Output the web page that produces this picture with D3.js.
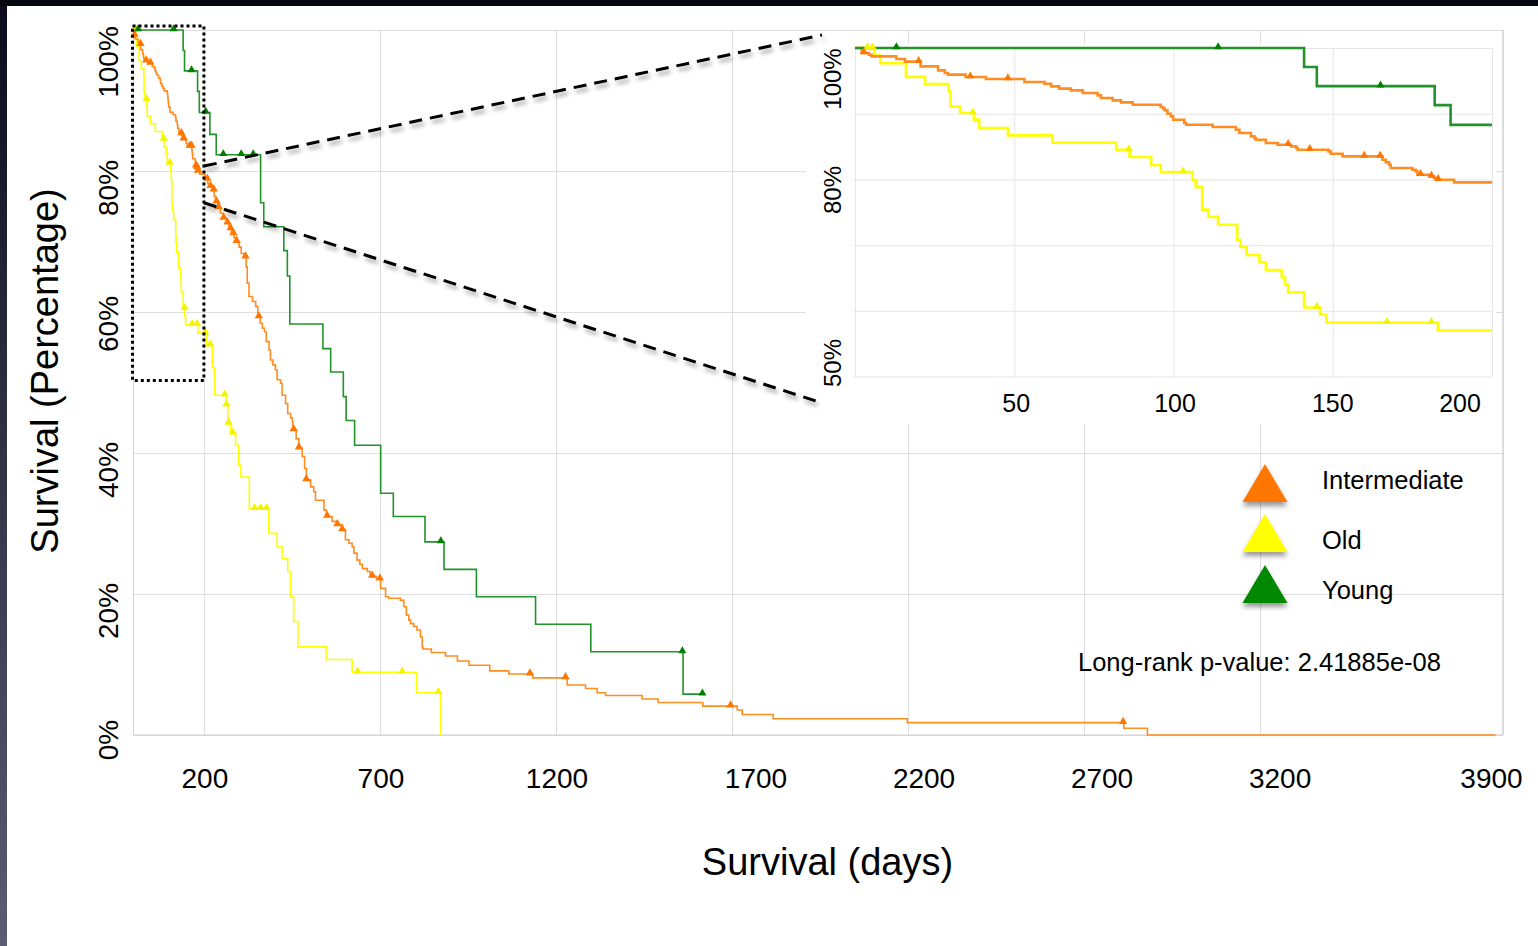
<!DOCTYPE html>
<html><head><meta charset="utf-8">
<script src="https://cdn.jsdelivr.net/npm/d3@7"></script>
<style>
html,body{margin:0;padding:0;background:#fff;}
svg{display:block;}
text{font-family:"Liberation Sans",Arial,Helvetica,sans-serif;fill:#000;}
</style></head><body>
<svg id="c" width="1538" height="946"></svg>
<script>
// ---------------- DATA ----------------
const groupNames = ["Intermediate", "Old", "Young"];

// Intermediate (orange) Kaplan-Meier steps: time (days) -> survival (%)
const interTimes = [0,2.1,4.4,5.2,13,15.7,20.6,26.1,28.2,29.2,34.7,41.1,53.2,59.5,61.6,64.1,67.8,71.5,76.2,77.2,80.9,83.5,87.2,96,96.8,97.3,98.1,99.2,99.9,103.4,104,112.3,119.6,120.7,124.3,125.4,125.9,129,132.7,136.9,138.5,139,148.7,149.4,153.1,165.6,166.7,167.7,168.2,175,176.1,176.6,180.8,181.8,182.8,188.1,
  203,207,211,218,224,229,233,240,247,255,264,271,278,286,293,300,306,315,320,323,328,338,347,353,360,366,372,377,385,389,396,403,408,418,422,432,438,446,451,453,462,470,479,486,491,503,512,517,541,548,564,579,593,602,612,621,626,635,643,650,664,672,678,690,702,716,725,758,768,775,782,787,796,805,815,820,822,846,886,920,953,1012,1066,1134,1232,1284,1317,1341,1445,1490,1617,1715,1729,1817,2198,2813,2880];
const interSurv = [100,99.24,98.98,98.73,98.32,97.92,97.21,96.6,96.19,95.94,95.58,95.28,94.82,94.57,94.16,93.81,93.55,93.15,92.79,92.39,92.03,91.73,91.37,91.02,90.76,90.51,90.0,89.6,89.09,88.58,88.32,87.97,87.56,87.06,86.55,86.29,86.04,85.53,85.28,85.03,84.77,84.52,84.26,83.91,83.5,82.99,82.59,82.23,81.73,81.47,81.22,80.71,80.46,80.2,79.95,79.54,
  79.2,78.8,78.2,77.8,77.3,76.4,75.6,74.8,74.0,73.3,72.6,71.8,71.1,70.5,70.0,69.2,68.3,67.8,66.4,64.1,62.2,61.5,60.8,59.3,58.4,57.7,57.2,55.8,54.6,53.2,52.5,51.8,50.4,49.9,48.2,47.0,45.6,45.0,44.4,43.3,42.0,40.7,39.5,37.8,36.2,35.2,34.5,33.3,31.9,31.0,30.3,29.8,29.1,27.7,27.2,26.7,25.8,24.8,24.2,23.6,23.2,22.8,22.5,22.1,20.8,19.6,19.4,19.1,18.2,17.0,16.3,15.8,15.4,14.9,13.9,12.5,12.2,11.7,11.2,10.5,9.9,9.1,8.65,8.1,7.1,6.6,6.0,5.6,5.1,4.6,4.1,3.55,2.9,2.3,1.75,0.95,0];
const interCensor = [2.8,20,36.2,48,136,142.8,159.9,164.9,177.6,181,183.1,210,219,228,236,242,256,267,276,284,293,318,356,455,470,491,550,579,593,678,700,1126,1227,1696,2811];
const interEnd = 3869;

// Old (yellow)
const oldTimes = [0,6,8,16,22,29.4,30,33,37.3,39,48,62,82,86.2,93,96,106,107,109,111,114,120,121,123,127,129,134,135,136,141,146,148,183,
  208,224,231,263,268,276,290,299,305,329,384,408,422,438,446,455,467,547,621,804,872];
const oldSurv = [100,98.9,97.7,95.6,94.5,93.4,91.1,90.1,89.1,87.8,86.7,85.6,84.5,83.4,82.2,81.1,79.9,78.8,75.4,74.3,73.1,70.8,69.7,68.5,67.4,66.2,65.1,64.0,62.8,60.5,59.4,58.2,57.0,
  55.3,52.1,48.2,46.8,44.2,42.8,41.1,38.3,36.6,32.1,28.6,26.7,25.0,23.2,19.6,16.1,12.5,10.7,8.9,6.0,0];
const oldCensor = [3.9,5.5,37,86,103,145,167,181,204,218,259,264,270,282,344,361,378,637,763,866];
const oldEnd = 872;

// Young (green)
const youngTimes = [0,141,145,182,187,217,235,361,370,427,437,444,538,560,596,604,628,702,738,828,882,974,1142,1299,1561];
const youngSurv = [100,97.1,94.2,91.3,88.3,85.2,82.3,75.5,72.1,68.7,65.1,58.3,54.8,51.5,48.0,44.6,41.1,34.3,31.0,27.4,23.5,19.6,15.7,11.8,5.8];
const youngCensor = [13,114,165,205,255,306,340,873,1559,1616];
const youngEnd = 1616;

// Axes
const xTickValues = [200,700,1200,1700,2200,2700,3200];
const xLabelValues = [200,700,1200,1700,2200,2700,3200,3900];
const yTickValues = [0,20,40,60,80,100];
const insetXTicks = [50,100,150,200];
const insetYTicks = [50,60,70,80,90,100];
const insetYLabelValues = [100,80,50];
const pValueText = "Long-rank p-value: 2.41885e-08";
const xTitle = "Survival (days)";
const yTitle = "Survival (Percentage)";

// ---------------- LAYOUT ----------------
const svg = d3.select("#c");
const x = d3.scaleLinear().domain([0,3890]).range([133.5,1503]);
const y = d3.scaleLinear().domain([0,100]).range([735,30]);
const ix = d3.scaleLinear().domain([0,200]).range([855,1492]);
const iy = d3.scaleLinear().domain([50,100]).range([376.5,48]);

const xLabelNudge = [1,1,1,24,16,18,20,-15];
const yLabelNudge = [5,17,17,12,17,32];
const insetXLabelNudge = [2,1.5,0,-32];
const insetYLabelNudge = [31,10.6,-13.5];

const series = [
  {name:"Old", T:oldTimes, S:oldSurv, C:oldCensor, end:oldEnd, line:"#ffff00", mark:"#f4f400"},
  {name:"Intermediate", T:interTimes, S:interSurv, C:interCensor, end:interEnd, line:"#ff8d22", mark:"#ff7700"},
  {name:"Young", T:youngTimes, S:youngSurv, C:youngCensor, end:youngEnd, line:"#22922a", mark:"#007f00"}
];
const legendColors = {"Intermediate":"#ff7700","Old":"#ffff00","Young":"#008800"};

function stepPts(T,S,end){
  const p = T.map((t,i)=>[t,S[i]]);
  if (end > T[T.length-1]) p.push([end,S[S.length-1]]);
  return p;
}
function survAt(T,S,t){
  const i = d3.bisectRight(T,t)-1;
  return S[Math.max(0,i)];
}

// defs
const defs = svg.append("defs");
const grad = defs.append("linearGradient").attr("id","lb").attr("x1",0).attr("y1",0).attr("x2",0).attr("y2",1);
grad.append("stop").attr("offset","0%").attr("stop-color","#0b0b1c");
grad.append("stop").attr("offset","100%").attr("stop-color","#5c5c72");
defs.append("filter").attr("id","sh").attr("x","-40%").attr("y","-40%").attr("width","180%").attr("height","200%")
  .append("feDropShadow").attr("dx",0).attr("dy",4).attr("stdDeviation",2.5).attr("flood-color","#000").attr("flood-opacity",0.4);
defs.append("filter").attr("id","dsh").attr("x","-10%").attr("y","-50%").attr("width","120%").attr("height","200%")
  .append("feDropShadow").attr("dx",2).attr("dy",4).attr("stdDeviation",2).attr("flood-color","#000").attr("flood-opacity",0.35);
defs.append("clipPath").attr("id","ic").append("rect")
  .attr("x",ix(0)).attr("y",iy(100)-8).attr("width",ix(200)-ix(0)).attr("height",iy(50)-iy(100)+10);

// background / frame
svg.append("rect").attr("width",1538).attr("height",946).attr("fill","#fff");
svg.append("rect").attr("x",0).attr("y",0).attr("width",7).attr("height",946).attr("fill","url(#lb)");
svg.append("rect").attr("x",0).attr("y",0).attr("width",1538).attr("height",6).attr("fill","#070710");

// ---- main grid ----
const gridColor = "#dedede";
svg.append("g").attr("transform",`translate(0,${y(0)})`)
  .call(d3.axisBottom(x).tickValues(xTickValues).tickSize(-(y(0)-y(100))).tickFormat(""))
  .call(g=>g.select(".domain").remove())
  .call(g=>g.selectAll("line").attr("stroke",gridColor).attr("stroke-width",1));
svg.append("g").attr("transform",`translate(${x(0)},0)`)
  .call(d3.axisLeft(y).tickValues(yTickValues).tickSize(-(x(3890)-x(0))).tickFormat(""))
  .call(g=>g.select(".domain").remove())
  .call(g=>g.selectAll("line").attr("stroke",gridColor).attr("stroke-width",1));
// left and right border
svg.append("line").attr("x1",x(0)).attr("x2",x(0)).attr("y1",y(100)).attr("y2",y(0)).attr("stroke","#d6d6d6");
svg.append("line").attr("x1",x(3890)).attr("x2",x(3890)).attr("y1",y(100)).attr("y2",y(0)).attr("stroke","#cfcfcf").attr("stroke-width",1.5);
svg.append("line").attr("x1",x(0)).attr("x2",x(3890)).attr("y1",y(0)).attr("y2",y(0)).attr("stroke","#d0d0d0").attr("stroke-width",1.2);

// main tick labels
svg.append("g").selectAll("text").data(xLabelValues).join("text")
  .attr("x",(d,i)=>x(d)+xLabelNudge[i]).attr("y",788)
  .attr("text-anchor","middle").attr("font-size",28).text(d=>String(d));
svg.append("g").selectAll("text").data(yTickValues).join("text")
  .attr("transform",(d,i)=>`translate(118,${y(d)+yLabelNudge[i]}) rotate(-90)`)
  .attr("text-anchor","middle").attr("font-size",28).text(d=>d+"%");

// axis titles
svg.append("text").attr("x",827.5).attr("y",875).attr("text-anchor","middle").attr("font-size",38).text(xTitle);
svg.append("text").attr("transform","translate(58,371) rotate(-90)").attr("text-anchor","middle").attr("font-size",38).text(yTitle);

// ---- main curves ----
const line = d3.line().x(d=>x(d[0])).y(d=>y(d[1])).curve(d3.curveStepAfter);
const tri = d3.symbol().type(d3.symbolTriangle);
series.forEach(s=>{
  svg.append("path").datum(stepPts(s.T,s.S,s.end)).attr("d",line)
    .attr("fill","none").attr("stroke",s.line).attr("stroke-width",1.6);
});
series.forEach(s=>{
  svg.append("g").selectAll("path").data(s.C).join("path")
    .attr("d",tri.size(s.name==="Young"?28:30)())
    .attr("transform",t=>`translate(${x(t)},${y(survAt(s.T,s.S,t))-1})`)
    .attr("fill",s.mark);
});

// dotted zoom box
svg.append("rect").attr("x",x(0)-1).attr("y",y(100)-4)
  .attr("width",x(200)-x(0)+1).attr("height",(y(50)-2)-(y(100)-4))
  .attr("fill","none").attr("stroke","#000").attr("stroke-width",3).attr("stroke-dasharray","3 3");

// ---- inset ----
svg.append("rect").attr("x",806).attr("y",44).attr("width",690).attr("height",380).attr("fill","#fff");
const inset = svg.append("g");
const igrid = "#e6e6e6";
inset.append("g").attr("transform",`translate(0,${iy(50)})`)
  .call(d3.axisBottom(ix).tickValues([0].concat(insetXTicks)).tickSize(-(iy(50)-iy(100))).tickFormat(""))
  .call(g=>g.select(".domain").remove())
  .call(g=>g.selectAll("line").attr("stroke",igrid).attr("stroke-width",1));
inset.append("g").attr("transform",`translate(${ix(0)-2},0)`)
  .call(d3.axisLeft(iy).tickValues(insetYTicks).tickSize(-(ix(200)-ix(0)+2)).tickFormat(""))
  .call(g=>g.select(".domain").remove())
  .call(g=>g.selectAll("line").attr("stroke",igrid).attr("stroke-width",1));
inset.append("g").selectAll("text").data(insetXTicks).join("text")
  .attr("x",(d,i)=>ix(d)+insetXLabelNudge[i]).attr("y",412)
  .attr("text-anchor","middle").attr("font-size",25).text(d=>String(d));
inset.append("g").selectAll("text").data(insetYLabelValues).join("text")
  .attr("transform",(d,i)=>`translate(841,${iy(d)+insetYLabelNudge[i]}) rotate(-90)`)
  .attr("text-anchor","middle").attr("font-size",24).text(d=>d+"%");

const iline = d3.line().x(d=>ix(d[0])).y(d=>iy(d[1])).curve(d3.curveStepAfter);
const ic = inset.append("g").attr("clip-path","url(#ic)");
series.forEach(s=>{
  const pts = stepPts(s.T,s.S,s.end).filter(p=>p[0]<=200);
  pts.push([200, survAt(s.T,s.S,200)]);
  ic.append("path").datum(pts).attr("d",iline)
    .attr("fill","none").attr("stroke",s.line).attr("stroke-width",2.6);
});
series.forEach(s=>{
  ic.append("g").selectAll("path").data(s.C.filter(t=>t<=200)).join("path")
    .attr("d",tri.size(28)())
    .attr("transform",t=>`translate(${ix(t)},${iy(survAt(s.T,s.S,t))-1})`)
    .attr("fill",s.mark);
});

// connectors
const conn = svg.append("g").attr("filter","url(#dsh)");
[[y(80.7),35],[y(75.5),403]].forEach(([y0,y1])=>{
  conn.append("line").attr("x1",x(200)).attr("y1",y0).attr("x2",822).attr("y2",y1)
    .attr("stroke","#000").attr("stroke-width",3).attr("stroke-dasharray","13 8");
});

// ---- legend ----
const legTop = [464,514,565];
const legBase = [489,549,599];
const lg = svg.append("g");
groupNames.forEach((n,i)=>{
  const t = legTop[i], b = t+38;
  lg.append("path").attr("d",`M${1265-22.5},${b} L${1265+22.5},${b} L1265,${t} Z`)
    .attr("fill",legendColors[n]).attr("filter","url(#sh)");
  lg.append("text").attr("x",1322).attr("y",legBase[i]).attr("font-size",25.5).text(n);
});
svg.append("text").attr("x",1078).attr("y",671).attr("font-size",25.5).text(pValueText);
</script>
</body></html>
